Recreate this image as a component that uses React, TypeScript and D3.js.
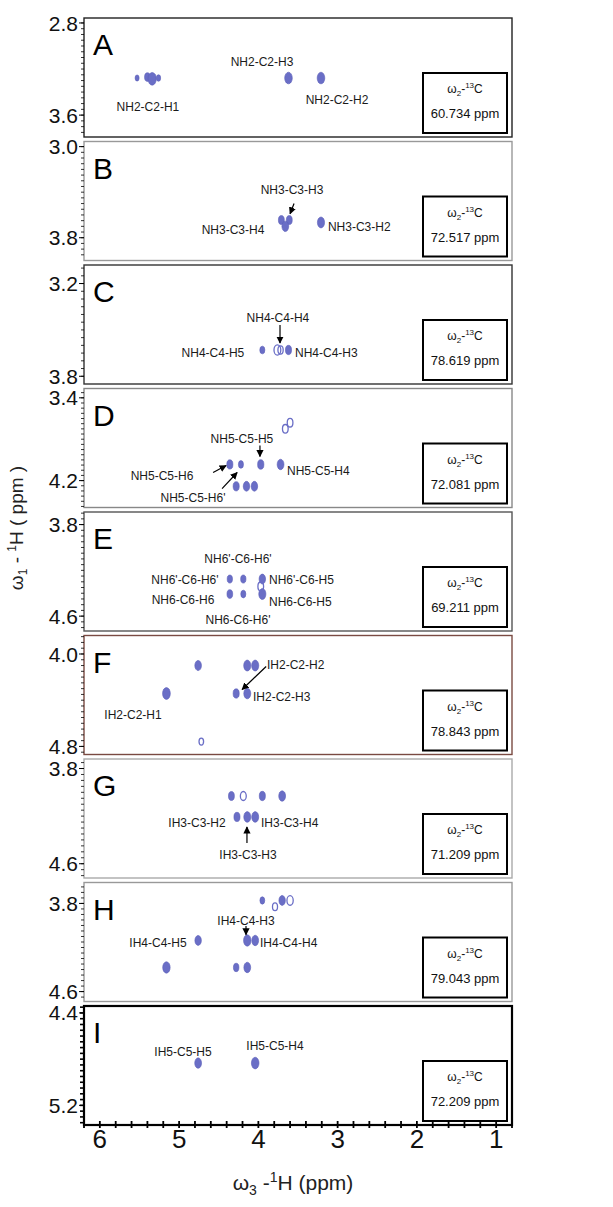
import React from 'react'
import * as d3 from 'd3'

const WIDTH = 613
const HEIGHT = 1207
const PLOT_LEFT = 84
const PLOT_RIGHT = 512
const FIRST_TOP = 18
const PANEL_STEP = 123.5
const PANEL_H = 119
const PEAK_COLOR = '#6a6ec6'
const FONT = '"Liberation Sans", Arial, sans-serif'

// omega-3 (direct 1H) axis
const h3Domain = [6.2, 0.8]
const h3Labels = [6, 5, 4, 3, 2, 1]

const panelLetters = ['A', 'B', 'C', 'D', 'E', 'F', 'G', 'H', 'I']
const carbonShifts = ['60.734', '72.517', '78.619', '72.081', '69.211', '78.843', '71.209', '79.043', '72.209']

// omega-1 (indirect 1H) range of each strip, top to bottom
const h1Domains = [
  [2.757, 3.79], [2.955, 4.0], [3.08, 3.85], [3.31, 4.46], [3.69, 4.73],
  [3.84, 4.87], [3.72, 4.72], [3.61, 4.69], [4.34, 5.37]
]
const h1Labels = [
  [2.8, 3.6], [3.0, 3.8], [3.2, 3.8], [3.4, 4.2], [3.8, 4.6],
  [4.0, 4.8], [3.8, 4.6], [3.8, 4.6], [4.4, 5.2]
]

// cross peaks: [omega3 ppm, omega1 ppm, relative intensity]
const peaksA = [[5.53, 3.278, 0.35], [5.4, 3.27, 0.7], [5.34, 3.285, 1.5], [5.26, 3.278, 0.4], [3.62, 3.278, 1.25], [3.21, 3.278, 1.25]]
const peaksB = [[3.71, 3.645, 0.75], [3.61, 3.645, 0.75], [3.66, 3.7, 1.0], [3.21, 3.666, 1.1]]
const peaksC = [[3.95, 3.63, 0.55], [3.62, 3.63, 0.8]]
const peaksD = [
  [4.36, 4.044, 0.8], [4.22, 4.044, 0.55], [3.97, 4.044, 0.85], [3.72, 4.044, 1.0],
  [4.28, 4.255, 0.8], [4.15, 4.255, 0.9], [4.05, 4.255, 0.9]
]
const peaksE = [
  [4.36, 4.276, 0.6], [4.19, 4.276, 0.6], [3.95, 4.276, 0.9],
  [4.36, 4.407, 0.7], [4.19, 4.407, 0.55], [3.95, 4.407, 1.1]
]
const peaksF = [
  [4.76, 4.1, 0.95], [4.14, 4.1, 1.1], [4.04, 4.1, 1.1],
  [5.16, 4.342, 1.3], [4.28, 4.342, 0.8], [4.14, 4.342, 1.05]
]
const peaksG = [
  [4.34, 4.031, 0.75], [3.95, 4.031, 0.8], [3.7, 4.031, 1.0],
  [4.27, 4.207, 0.8], [4.14, 4.207, 1.05], [4.04, 4.207, 1.05]
]
const peaksH = [
  [3.95, 3.773, 0.5], [3.7, 3.773, 0.9],
  [4.76, 4.136, 0.9], [4.14, 4.136, 1.2], [4.04, 4.136, 1.0],
  [5.16, 4.381, 1.2], [4.28, 4.381, 0.65], [4.14, 4.381, 1.0]
]
const peaksI = [[4.76, 4.834, 1.0], [4.04, 4.834, 1.25]]

// weak peaks only drawn as open contour rings
const openA = []
const openB = []
const openC = [[3.76, 3.63, 1.0], [3.72, 3.63, 0.6]]
const openD = [[3.66, 3.7, 0.7], [3.6, 3.64, 0.7]]
const openE = [[3.97, 4.34, 0.7]]
const openF = [[4.72, 4.758, 0.45]]
const openG = [[4.19, 4.031, 0.75]]
const openH = [[3.6, 3.773, 0.85], [3.79, 3.83, 0.55]]
const openI = []

// assignment labels: [text, omega3 ppm, omega1 ppm, anchor]
const labelsA = [['NH2-C2-H1', 5.393, 3.53, 'middle'], ['NH2-C2-H3', 3.954, 3.139, 'middle'], ['NH2-C2-H2', 3.008, 3.469, 'middle']]
const labelsB = [['NH3-C3-H3', 3.576, 3.376, 'middle'], ['NH3-C3-H4', 4.32, 3.728, 'middle'], ['NH3-C3-H2', 3.122, 3.702, 'start']]
const labelsC = [['NH4-C4-H4', 3.753, 3.423, 'middle'], ['NH4-C4-H5', 4.573, 3.65, 'middle'], ['NH4-C4-H3', 3.538, 3.65, 'start']]
const labelsD = [
  ['NH5-C5-H5', 4.207, 3.793, 'middle'], ['NH5-C5-H6', 5.216, 4.151, 'middle'],
  ['NH5-C5-H6\'', 4.825, 4.364, 'middle'], ['NH5-C5-H4', 3.639, 4.103, 'start']
]
const labelsE = [
  ['NH6\'-C6-H6\'', 4.257, 4.101, 'middle'], ['NH6\'-C6-H6\'', 4.926, 4.284, 'middle'],
  ['NH6\'-C6-H5', 3.866, 4.284, 'start'], ['NH6-C6-H6', 4.951, 4.459, 'middle'],
  ['NH6-C6-H5', 3.866, 4.477, 'start'], ['NH6-C6-H6\'', 4.257, 4.634, 'middle']
]
const labelsF = [['IH2-C2-H2', 3.891, 4.091, 'start'], ['IH2-C2-H3', 4.068, 4.368, 'start'], ['IH2-C2-H1', 5.582, 4.524, 'middle']]
const labelsG = [['IH3-C3-H2', 4.774, 4.258, 'middle'], ['IH3-C3-H4', 3.967, 4.258, 'start'], ['IH3-C3-H3', 4.131, 4.527, 'middle']]
const labelsH = [['IH4-C4-H3', 4.156, 3.955, 'middle'], ['IH4-C4-H5', 5.266, 4.154, 'middle'], ['IH4-C4-H4', 3.98, 4.154, 'start']]
const labelsI = [['IH5-C5-H5', 4.951, 4.738, 'middle'], ['IH5-C5-H4', 3.79, 4.687, 'middle']]

// arrows: [from omega3, from omega1, to omega3, to omega1]
const arrowsA = []
const arrowsB = [[3.55, 3.5, 3.6, 3.59]]
const arrowsC = [[3.727, 3.468, 3.727, 3.585]]
const arrowsD = [[3.98, 3.861, 3.98, 3.967], [4.571, 4.122, 4.407, 4.054], [4.458, 4.277, 4.268, 4.122]]
const arrowsE = []
const arrowsF = [[3.902, 4.108, 4.205, 4.307]]
const arrowsG = [[4.144, 4.426, 4.144, 4.292]]
const arrowsH = [[4.156, 4.005, 4.156, 4.085]]
const arrowsI = []

const panelPeaks = [peaksA, peaksB, peaksC, peaksD, peaksE, peaksF, peaksG, peaksH, peaksI]
const panelOpen = [openA, openB, openC, openD, openE, openF, openG, openH, openI]
const panelLabels = [labelsA, labelsB, labelsC, labelsD, labelsE, labelsF, labelsG, labelsH, labelsI]
const panelArrows = [arrowsA, arrowsB, arrowsC, arrowsD, arrowsE, arrowsF, arrowsG, arrowsH, arrowsI]

const borderColors = ['#222', '#999', '#333', '#888', '#555', '#7a4a42', '#aaa', '#999', '#000']

const x = d3.scaleLinear().domain(h3Domain).range([PLOT_LEFT, PLOT_RIGHT])
const rx = d3.scaleSqrt().domain([0, 1]).range([0, 3.4])
const ry = d3.scaleSqrt().domain([0, 1]).range([0, 5.2])

const Panel = ({ i }: { i: number }) => {
  const top = FIRST_TOP + i * PANEL_STEP
  const bottom = top + PANEL_H
  const [d0, d1] = h1Domains[i]
  const y = d3.scaleLinear().domain([d0, d1]).range([top, bottom])
  const minor = d3.range(Math.ceil(d0 / 0.05) * 0.05, d1, 0.05)
  const isLast = i === panelLetters.length - 1
  const boxW = 84
  const boxH = 60
  const boxX = 423
  const boxY = bottom - 4 - boxH

  return (
    <g>
      <rect
        x={PLOT_LEFT}
        y={top}
        width={PLOT_RIGHT - PLOT_LEFT}
        height={PANEL_H}
        fill="#fff"
        stroke={borderColors[i]}
        strokeWidth={isLast ? 2.2 : 1.4}
      />
      {minor.map((v, k) => (
        <line
          key={k}
          x1={PLOT_LEFT - (isLast ? 4 : 3)}
          x2={PLOT_LEFT}
          y1={y(v)}
          y2={y(v)}
          stroke="#000"
          strokeWidth={isLast ? 1.6 : 0.8}
        />
      ))}
      {h1Labels[i].map(v => (
        <g key={v}>
          <line x1={PLOT_LEFT - 5} x2={PLOT_LEFT} y1={y(v)} y2={y(v)} stroke="#000" strokeWidth={1} />
          <text
            x={PLOT_LEFT - 6}
            y={y(v)}
            dy="0.36em"
            textAnchor="end"
            fontSize={21}
            fontFamily={FONT}
            fill="#111"
          >
            {v.toFixed(1)}
          </text>
        </g>
      ))}
      <text x={93} y={top + 37} fontSize={30} fontFamily={FONT} fill="#000">
        {panelLetters[i]}
      </text>
      {panelPeaks[i].map(([px, py, a], k) => (
        <ellipse
          key={k}
          cx={x(px)}
          cy={y(py)}
          rx={rx(a)}
          ry={ry(a)}
          fill={PEAK_COLOR}
          stroke="#5a5eb8"
          strokeWidth={0.6}
        />
      ))}
      {panelOpen[i].map(([px, py, a], k) => (
        <ellipse
          key={k}
          cx={x(px)}
          cy={y(py)}
          rx={rx(a)}
          ry={ry(a)}
          fill="none"
          stroke={PEAK_COLOR}
          strokeWidth={1.3}
        />
      ))}
      {panelArrows[i].map(([ax, ay, bx, by], k) => (
        <line
          key={k}
          x1={x(ax)}
          y1={y(ay)}
          x2={x(bx)}
          y2={y(by)}
          stroke="#000"
          strokeWidth={1.2}
          markerEnd="url(#arrowhead)"
        />
      ))}
      {panelLabels[i].map(([t, lx, ly, anchor], k) => (
        <text
          key={k}
          x={x(lx as number)}
          y={y(ly as number)}
          dy="0.35em"
          textAnchor={anchor as string}
          fontSize={12}
          fontFamily={FONT}
          fill="#1a1a1a"
        >
          {t}
        </text>
      ))}
      <rect x={boxX} y={boxY} width={boxW} height={boxH} fill="#fff" stroke="#000" strokeWidth={2} />
      <text x={boxX + boxW / 2} y={boxY + 20} textAnchor="middle" fontSize={12} fontFamily={FONT} fill="#111">
        ω<tspan fontSize={8} dy={3}>2</tspan>
        <tspan dy={-3}>-</tspan>
        <tspan fontSize={8} dy={-5}>13</tspan>
        <tspan dy={5}>C</tspan>
      </text>
      <text x={boxX + boxW / 2} y={boxY + 45} textAnchor="middle" fontSize={13} fontFamily={FONT} fill="#111">
        {carbonShifts[i]} ppm
      </text>
    </g>
  )
}

export default function App() {
  const axisY = FIRST_TOP + (panelLetters.length - 1) * PANEL_STEP + PANEL_H
  const xTicks = d3.range(8, 63, 2).map(v => v / 10)

  return (
    <svg
      width={WIDTH}
      height={HEIGHT}
      style={{ position: 'absolute', left: 0, top: 0, background: '#fff' }}
    >
      <defs>
        <marker id="arrowhead" viewBox="0 0 10 10" refX={9} refY={5} markerWidth={6} markerHeight={6} orient="auto">
          <path d="M0,0 L10,5 L0,10 z" fill="#000" />
        </marker>
      </defs>
      <rect width={WIDTH} height={HEIGHT} fill="#fff" />
      {panelLetters.map((_, i) => (
        <Panel key={i} i={i} />
      ))}
      {xTicks.map((v, k) => (
        <line key={k} x1={x(v)} x2={x(v)} y1={axisY - 4} y2={axisY + 3} stroke="#000" strokeWidth={1.8} />
      ))}
      {h3Labels.map(v => (
        <text key={v} x={x(v)} y={axisY + 23} textAnchor="middle" fontSize={26} fontFamily={FONT} fill="#111">
          {v}
        </text>
      ))}
      <text x={293} y={1190} textAnchor="middle" fontSize={21} fontFamily={FONT} fill="#222">
        ω<tspan fontSize={14} dy={5}>3</tspan>
        <tspan dy={-5}> -</tspan>
        <tspan fontSize={14} dy={-8}>1</tspan>
        <tspan dy={8}>H (ppm)</tspan>
      </text>
      <text
        transform="translate(23,528) rotate(-90)"
        textAnchor="middle"
        fontSize={19}
        fontFamily={FONT}
        fill="#222"
      >
        ω<tspan fontSize={12} dy={4}>1</tspan>
        <tspan dy={-4}> - </tspan>
        <tspan fontSize={12} dy={-7}>1</tspan>
        <tspan dy={7}>H ( ppm )</tspan>
      </text>
    </svg>
  )
}
